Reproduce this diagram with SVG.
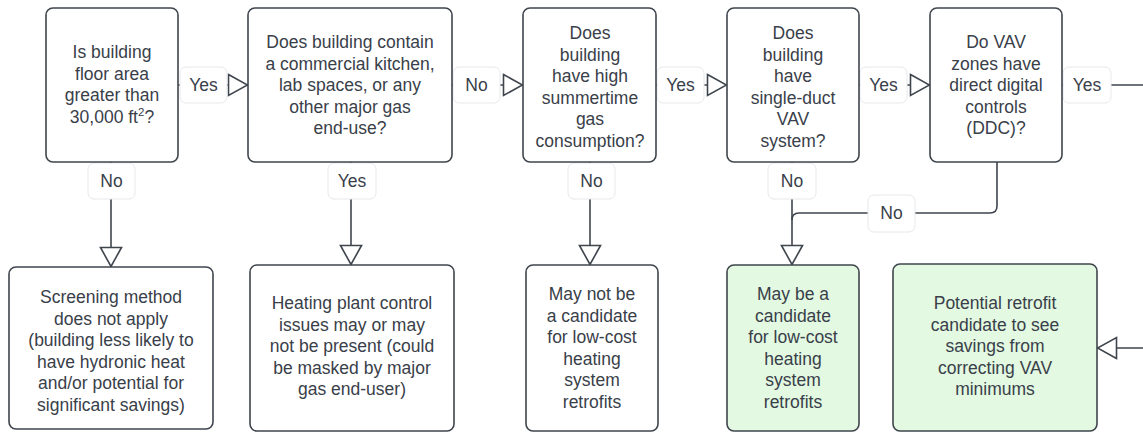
<svg xmlns="http://www.w3.org/2000/svg" width="1143" height="432" viewBox="0 0 1143 432">
<style>
.node{fill:#ffffff;stroke:#3f454d;stroke-width:1.6}
.green{fill:#e3f9e2}
.t{font-family:"Liberation Sans",Arial,sans-serif;font-size:17.5px;fill:#394049;text-anchor:middle}
.conn{fill:none;stroke:#3f454d;stroke-width:1.6}
.lbl{fill:#ffffff;stroke:#e6e8ec;stroke-width:1}
</style>
<defs>
<marker id="arr" viewBox="0 0 22 24" refX="21" refY="12" markerWidth="22" markerHeight="24" markerUnits="userSpaceOnUse" orient="auto">
<path d="M1.5,1.5 L20.5,12 L1.5,22.5 Z" fill="#ffffff" stroke="#3f454d" stroke-width="1.6"/>
</marker>
</defs>
<rect width="1143" height="432" fill="#ffffff"/>
<g id="connectors">
<path class="conn" d="M178,85 H248" marker-end="url(#arr)"/>
<path class="conn" d="M452,85 H523" marker-end="url(#arr)"/>
<path class="conn" d="M656,85 H727" marker-end="url(#arr)"/>
<path class="conn" d="M859,85 H930" marker-end="url(#arr)"/>
<path class="conn" d="M1062,85 H1170 V348 H1097" marker-end="url(#arr)"/>
<path class="conn" d="M111,162 V267" marker-end="url(#arr)"/>
<path class="conn" d="M351,162 V265" marker-end="url(#arr)"/>
<path class="conn" d="M590,162 V265" marker-end="url(#arr)"/>
<path class="conn" d="M792,162 V265" marker-end="url(#arr)"/>
<path class="conn" d="M997,162 V206 Q997,213 990,213 H799 Q792,213 792,220"/>
<rect class="lbl" x="180" y="67" width="47" height="36" rx="6"/>
<text class="t" x="203.5" y="91">Yes</text>
<rect class="lbl" x="453" y="67" width="47" height="36" rx="6"/>
<text class="t" x="476.5" y="91">No</text>
<rect class="lbl" x="657" y="67" width="47" height="36" rx="6"/>
<text class="t" x="680.5" y="91">Yes</text>
<rect class="lbl" x="860" y="67" width="47" height="36" rx="6"/>
<text class="t" x="883.5" y="91">Yes</text>
<rect class="lbl" x="1063" y="67" width="48" height="36" rx="6"/>
<text class="t" x="1087" y="91">Yes</text>
<rect class="lbl" x="88" y="163" width="47" height="36" rx="6"/>
<text class="t" x="111.5" y="187">No</text>
<rect class="lbl" x="328" y="163" width="48" height="36" rx="6"/>
<text class="t" x="352" y="187">Yes</text>
<rect class="lbl" x="568" y="163" width="47" height="36" rx="6"/>
<text class="t" x="591.5" y="187">No</text>
<rect class="lbl" x="768" y="163" width="48" height="36" rx="6"/>
<text class="t" x="792" y="187">No</text>
<rect class="lbl" x="868" y="195" width="47" height="37" rx="6"/>
<text class="t" x="891.5" y="219">No</text>
</g>
<g id="n1">
<rect class="node" x="46" y="8" width="132" height="154" rx="7"/>
<text class="t" x="112"><tspan x="112" y="58">Is building</tspan><tspan x="112" y="79.6">floor area</tspan><tspan x="112" y="101.2">greater than</tspan><tspan x="112" y="122.8">30,000 ft<tspan font-size="11.5" dy="-6.5">2</tspan><tspan dy="6.5">?</tspan></tspan></text>
</g>
<g id="n2">
<rect class="node" x="248" y="8" width="204" height="154" rx="7"/>
<text class="t" x="350"><tspan x="350" y="48">Does building contain</tspan><tspan x="350" y="69.6">a commercial kitchen,</tspan><tspan x="350" y="91.2">lab spaces, or any</tspan><tspan x="350" y="112.8">other major gas</tspan><tspan x="350" y="134.4">end-use?</tspan></text>
</g>
<g id="n3">
<rect class="node" x="523" y="8" width="133" height="154" rx="7"/>
<text class="t" x="590"><tspan x="590" y="39">Does</tspan><tspan x="590" y="60.6">building</tspan><tspan x="590" y="82.2">have high</tspan><tspan x="590" y="103.8">summertime</tspan><tspan x="590" y="125.4">gas</tspan><tspan x="590" y="147">consumption?</tspan></text>
</g>
<g id="n4">
<rect class="node" x="727" y="8" width="132" height="154" rx="7"/>
<text class="t" x="793"><tspan x="793" y="39">Does</tspan><tspan x="793" y="60.6">building</tspan><tspan x="793" y="82.2">have</tspan><tspan x="793" y="103.8">single-duct</tspan><tspan x="793" y="125.4">VAV</tspan><tspan x="793" y="147">system?</tspan></text>
</g>
<g id="n5">
<rect class="node" x="930" y="8" width="132" height="154" rx="7"/>
<text class="t" x="996"><tspan x="996" y="48">Do VAV</tspan><tspan x="996" y="69.6">zones have</tspan><tspan x="996" y="91.2">direct digital</tspan><tspan x="996" y="112.8">controls</tspan><tspan x="996" y="134.4">(DDC)?</tspan></text>
</g>
<g id="n6">
<rect class="node" x="9" y="267" width="204" height="162" rx="7"/>
<text class="t" x="111"><tspan x="111" y="303">Screening method</tspan><tspan x="111" y="324.6">does not apply</tspan><tspan x="111" y="346.2">(building less likely to</tspan><tspan x="111" y="367.8">have hydronic heat</tspan><tspan x="111" y="389.4">and/or potential for</tspan><tspan x="111" y="411">significant savings)</tspan></text>
</g>
<g id="n7">
<rect class="node" x="250" y="265" width="204" height="166" rx="7"/>
<text class="t" x="352"><tspan x="352" y="309">Heating plant control</tspan><tspan x="352" y="330.6">issues may or may</tspan><tspan x="352" y="352.2">not be present (could</tspan><tspan x="352" y="373.8">be masked by major</tspan><tspan x="352" y="395.4">gas end-user)</tspan></text>
</g>
<g id="n8">
<rect class="node" x="526" y="265" width="132" height="166" rx="7"/>
<text class="t" x="592"><tspan x="592" y="300">May not be</tspan><tspan x="592" y="321.6">a candidate</tspan><tspan x="592" y="343.2">for low-cost</tspan><tspan x="592" y="364.8">heating</tspan><tspan x="592" y="386.4">system</tspan><tspan x="592" y="408">retrofits</tspan></text>
</g>
<g id="n9">
<rect class="node green" x="727" y="265" width="132" height="166" rx="7"/>
<text class="t" x="793"><tspan x="793" y="300">May be a</tspan><tspan x="793" y="321.6">candidate</tspan><tspan x="793" y="343.2">for low-cost</tspan><tspan x="793" y="364.8">heating</tspan><tspan x="793" y="386.4">system</tspan><tspan x="793" y="408">retrofits</tspan></text>
</g>
<g id="n10">
<rect class="node green" x="893" y="264" width="204" height="167" rx="7"/>
<text class="t" x="995"><tspan x="995" y="309">Potential retrofit</tspan><tspan x="995" y="330.6">candidate to see</tspan><tspan x="995" y="352.2">savings from</tspan><tspan x="995" y="373.8">correcting VAV</tspan><tspan x="995" y="395.4">minimums</tspan></text>
</g>
</svg>
